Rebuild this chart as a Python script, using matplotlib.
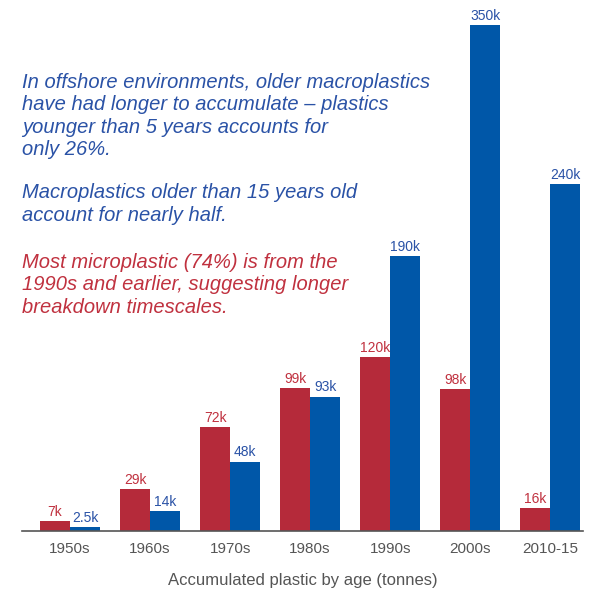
import numpy as np
import matplotlib
matplotlib.use('Agg')
import matplotlib.pyplot as plt

decades = ['1950s', '1960s', '1970s', '1980s', '1990s', '2000s', '2010-15']
micro = [7, 29, 72, 99, 120, 98, 16]
macro = [2.5, 14, 48, 93, 190, 350, 240]
micro_lbl = ['7k', '29k', '72k', '99k', '120k', '98k', '16k']
macro_lbl = ['2.5k', '14k', '48k', '93k', '190k', '350k', '240k']

red = '#B52A3A'
blue = '#0057A8'
grey = '#555555'

plt.rcParams['font.family'] = ['Liberation Sans', 'DejaVu Sans']

fig = plt.figure(figsize=(5.96, 5.92), dpi=100)
ax = fig.add_axes([22/596, 1 - 531/592, (583 - 22)/596, 531/592])
x = np.arange(len(decades))
w = 0.375
ax.bar(x - w/2, micro, w, color=red)
ax.bar(x + w/2, macro, w, color=blue)
for i in range(len(x)):
    ax.text(x[i] - w/2, micro[i] + 1.5, micro_lbl[i], ha='center', va='bottom', color='#C0313F', fontsize=10)
    ax.text(x[i] + w/2, macro[i] + 1.5, macro_lbl[i], ha='center', va='bottom', color='#2A52A6', fontsize=10)

ax.set_xlim(-0.6, 6.41)
ax.set_ylim(0, 531/1.446)
ax.set_xticks(x)
ax.set_xticklabels(decades, fontsize=11, color=grey)
ax.tick_params(axis='x', length=0, pad=8)
ax.set_yticks([])
for s in ['top', 'right', 'left']:
    ax.spines[s].set_visible(False)
ax.spines['bottom'].set_color(grey)
ax.spines['bottom'].set_linewidth(1.2)
ax.set_xlabel('Accumulated plastic by age (tonnes)', fontsize=12, color=grey, labelpad=12)

notes = [
    ('In offshore environments, older macroplastics', 88, '#2A52A6'),
    ('have had longer to accumulate \u2013 plastics', 110, '#2A52A6'),
    ('younger than 5 years accounts for', 133, '#2A52A6'),
    ('only 26%.', 155, '#2A52A6'),
    ('Macroplastics older than 15 years old', 198, '#2A52A6'),
    ('account for nearly half.', 221, '#2A52A6'),
    ('Most microplastic (74%) is from the', 268, '#C0313F'),
    ('1990s and earlier, suggesting longer', 290, '#C0313F'),
    ('breakdown timescales.', 313, '#C0313F'),
]
for t, yp, c in notes:
    fig.text(22/596, 1 - yp/592, t, ha='left', va='baseline', style='italic', color=c, fontsize=14.5)

fig.savefig('out.png', dpi=100)
